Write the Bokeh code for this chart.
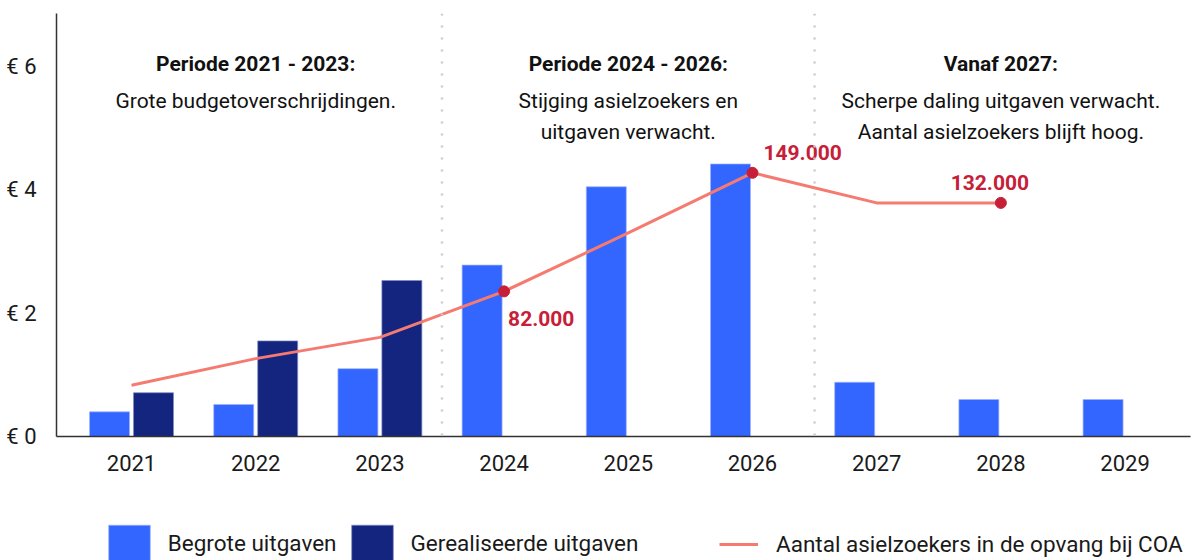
from bokeh.plotting import figure
from bokeh.models import (ColumnDataSource, Range1d, FixedTicker, Span, Legend,
                          LegendItem)
from bokeh.layouts import column
from bokeh.transform import dodge
from bokeh.core.properties import value
from bokeh.embed import file_html
from bokeh.resources import INLINE

# ---------------- data ----------------
years = [2021, 2022, 2023, 2024, 2025, 2026, 2027, 2028, 2029]
begroot = [0.40, 0.52, 1.10, 2.78, 4.05, 4.42, 0.88, 0.60, 0.60]          # mld euro
gerealiseerd_years = [2021, 2022, 2023]
gerealiseerd = [0.71, 1.55, 2.53]

asiel_years = [2021, 2022, 2023, 2024, 2025, 2026, 2027, 2028]
asiel = [29000, 44000, 56000, 82000, 115000, 149000, 132000, 132000]

label_years = [2024, 2026, 2028]
label_values = [82000, 149000, 132000]
label_texts = ["82.000", "149.000", "132.000"]

y_ticks = [0, 2, 4, 6]
y_tick_labels = ["€ 0", "€ 2", "€ 4", "€ 6"]

period_bounds = [2023.5, 2026.5]
period_x = [2022, 2025, 2028]
period_titles = ["Periode 2021 - 2023:", "Periode 2024 - 2026:", "Vanaf 2027:"]
period_line1 = ["Grote budgetoverschrijdingen.", "Stijging asielzoekers en",
                "Scherpe daling uitgaven verwacht."]
period_line2 = ["", "uitgaven verwacht.", "Aantal asielzoekers blijft hoog."]
period_level = 6

legend_labels = ["Begrote uitgaven", "Gerealiseerde uitgaven",
                 "Aantal asielzoekers in de opvang bij COA"]

BLUE = "#3366FF"
NAVY = "#14257F"
SALMON = "#F57A70"
CRIMSON = "#C62039"
FONT = "Roboto"
TEXT = "#1a1a1a"

X_RANGE = (2020.396, 2029.527)

# ---------------- main figure ----------------
p = figure(width=1192, height=490,
           x_range=Range1d(*X_RANGE), y_range=Range1d(0, 6.86),
           output_backend="svg", toolbar_location=None,
           min_border_left=56, min_border_right=2, min_border_top=13,
           min_border_bottom=54)
p.extra_y_ranges = {"asiel": Range1d(0, 239000)}
p.outline_line_color = None
p.xgrid.grid_line_color = None
p.ygrid.grid_line_color = None

src_b = ColumnDataSource(dict(x=years, top=begroot))
src_g = ColumnDataSource(dict(x=gerealiseerd_years, top=gerealiseerd))
src_l = ColumnDataSource(dict(x=asiel_years, y=asiel))

bar_b = dict(fill_color=BLUE, line_color="#9FB4FF", line_width=1, line_alpha=0.7)
bar_g = dict(fill_color=NAVY, line_color="#7F8BC4", line_width=1, line_alpha=0.7)
line_s = dict(line_color=SALMON, line_width=3)

p.vbar(x=dodge("x", -0.177), top="top", width=0.322, source=src_b, **bar_b)
p.vbar(x=dodge("x", 0.177), top="top", width=0.322, source=src_g, **bar_g)

for b in period_bounds:
    p.add_layout(Span(location=b, dimension="height", line_color="#C8CCCC",
                      line_width=2.5, line_dash="2 10"))

p.line("x", "y", source=src_l, y_range_name="asiel", **line_s)
p.scatter(label_years, label_values, y_range_name="asiel", size=11,
          fill_color=CRIMSON, line_color=CRIMSON)

# value labels
offsets = [(4, 27, "left"), (11, -20, "left"), (-11, -20, "center")]
for i, (dx, dy, al) in enumerate(offsets):
    p.text([label_years[i]], [label_values[i]], text=[label_texts[i]],
           y_range_name="asiel", x_offset=dx, y_offset=dy, text_align=al,
           text_baseline="middle", text_color=CRIMSON,
           text_font=value(FONT), text_font_style="bold",
           text_font_size="21px")

# period annotations
common = dict(text_align="center", text_baseline="middle",
              text_font=value(FONT), text_font_size="21px", text_color="#111111")
lvl = [period_level] * len(period_x)
p.text(period_x, lvl, text=period_titles, y_offset=-3, text_font_style="bold",
       **common)
p.text(period_x, lvl, text=period_line1, y_offset=34, **common)
p.text(period_x, lvl, text=period_line2, y_offset=65, **common)

# axes
p.yaxis.ticker = FixedTicker(ticks=y_ticks)
p.yaxis.major_label_overrides = {t: l for t, l in zip(y_ticks, y_tick_labels)}
p.xaxis.ticker = FixedTicker(ticks=years)
p.xaxis.major_label_overrides = {y: str(y) for y in years}
for ax in (p.xaxis[0], p.yaxis[0]):
    ax.major_tick_line_color = None
    ax.minor_tick_line_color = None
    ax.axis_line_color = "#333333"
    ax.axis_line_width = 1.5
    ax.major_label_text_font = FONT
    ax.major_label_text_font_size = "22px"
    ax.major_label_text_color = TEXT
p.yaxis.major_label_standoff = 14
p.xaxis.major_label_standoff = 12

# ---------------- legend strip ----------------
# its y ranges lie far above the data, so the legend proxies fall below the page
lg = figure(width=1192, height=70, x_range=Range1d(*X_RANGE),
            y_range=Range1d(20, 21),
            output_backend="svg", toolbar_location=None,
            x_axis_location=None, y_axis_location=None,
            min_border_left=0, min_border_right=0,
            min_border_top=0, min_border_bottom=0)
lg.extra_y_ranges = {"asiel": Range1d(700000, 735000)}
lg.outline_line_color = None
lg.xgrid.grid_line_color = None
lg.ygrid.grid_line_color = None

d_b = lg.vbar(x="x", top="top", width=0.322, source=src_b, **bar_b)
d_g = lg.vbar(x="x", top="top", width=0.322, source=src_g, **bar_g)
d_l = lg.line("x", "y", source=src_l, y_range_name="asiel", **line_s)

leg_style = dict(orientation="horizontal", padding=0, margin=0,
                 border_line_color=None, background_fill_alpha=0,
                 label_text_font=FONT, label_text_font_size="22.5px",
                 label_text_color=TEXT)
leg1 = Legend(items=[LegendItem(label=legend_labels[0], renderers=[d_b]),
                     LegendItem(label=legend_labels[1], renderers=[d_g])],
              location=(46.75, -6.75), glyph_width=52, glyph_height=47,
              label_height=47, label_standoff=13, spacing=9, **leg_style)
leg2 = Legend(items=[LegendItem(label=legend_labels[2], renderers=[d_l])],
              location=(663, 1.3), glyph_width=39, glyph_height=30,
              label_height=30, label_standoff=18, **leg_style)
lg.add_layout(leg1, "center")
lg.add_layout(leg2, "center")

layout = column(p, lg, spacing=0)
open("out.html", "w").write(file_html(layout, INLINE))
